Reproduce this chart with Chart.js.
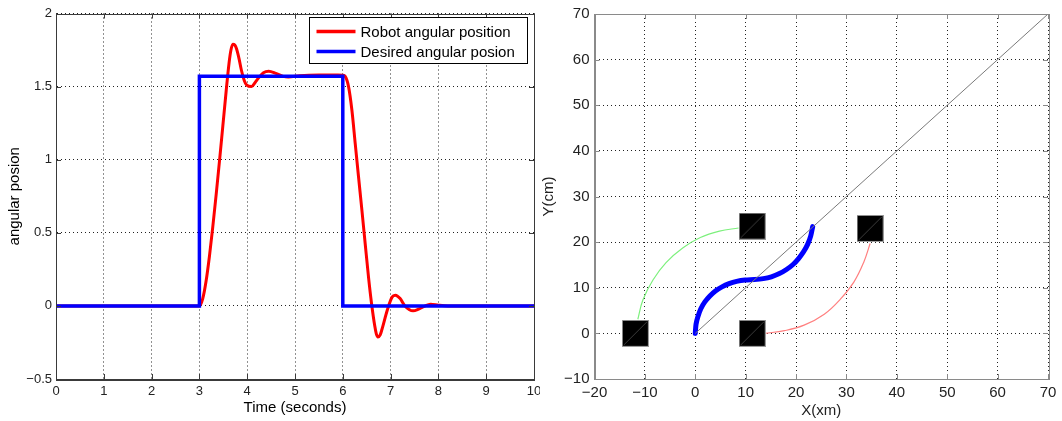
<!DOCTYPE html>
<html>
<head>
<meta charset="utf-8">
<script src="https://cdn.jsdelivr.net/npm/chart.js@4.4.0/dist/chart.umd.min.js"></script>
<style>
  body { margin: 0; background: #fff; }
  #wrap { position: relative; width: 1062px; height: 421px; }
  .box { position: absolute; top: 0; height: 421px; }
</style>
</head>
<body>
<div id="wrap">
  <div class="box" style="left:0;width:540px"><canvas id="angleChart"></canvas></div>
  <div class="box" style="left:540px;width:522px"><canvas id="pathChart"></canvas></div>
</div>
<script>
// ---- left plot: step response ----
const robotT = [0, 3.0, 3.07, 3.14, 3.21, 3.28, 3.35, 3.42, 3.49, 3.56, 3.62, 3.66, 3.70, 3.74, 3.775, 3.83, 3.88, 3.94, 3.99, 4.09, 4.17, 4.23, 4.34, 4.45, 4.6, 4.75, 4.86, 5.1, 5.5, 5.9, 6.0, 6.05, 6.12, 6.19, 6.26, 6.33, 6.40, 6.47, 6.54, 6.60, 6.67, 6.70, 6.735, 6.78, 6.82, 6.93, 7.03, 7.10, 7.2, 7.3, 7.47, 7.6, 7.84, 8.0, 8.2, 10];
const robotAngle = [0, 0, 0.05, 0.17, 0.34, 0.54, 0.76, 0.99, 1.23, 1.47, 1.66, 1.75, 1.79, 1.785, 1.76, 1.69, 1.61, 1.54, 1.51, 1.50, 1.53, 1.556, 1.595, 1.605, 1.59, 1.57, 1.565, 1.575, 1.58, 1.58, 1.578, 1.57, 1.50, 1.34, 1.11, 0.88, 0.653, 0.42, 0.19, 0.02, -0.14, -0.19, -0.213, -0.20, -0.16, -0.03, 0.06, 0.073, 0.05, 0.0, -0.034, -0.02, 0.012, 0.005, 0, 0];
const desiredT = [0, 3, 3, 6, 6, 10];
const desiredAngle = [0, 0, 1.57, 1.57, 0, 0];
const timeTicks = [0, 1, 2, 3, 4, 5, 6, 7, 8, 9, 10];
const angleTicks = [-0.5, 0, 0.5, 1, 1.5, 2];

// ---- right plot: trajectories ----
const pathX = [0, 0.15, 0.5, 1.1, 1.9, 2.9, 4.0, 5.3, 6.7, 8.2, 9.9, 11.7, 13.5, 15.1, 16.7, 18.1, 19.4, 20.5, 21.5, 22.3, 22.9, 23.3];
const pathY = [0, 2.0, 3.6, 5.4, 6.9, 8.2, 9.3, 10.2, 10.9, 11.4, 11.7, 11.8, 12.0, 12.4, 13.1, 14.0, 15.1, 16.4, 17.9, 19.5, 21.3, 23.4];
const greenX = [-11.4, -10.4, -8.4, -5.8, -2.5, 1.0, 4.8, 8.6];
const greenY = [3.1, 7.3, 11.7, 15.5, 18.7, 21.0, 22.4, 23.1];
const redX = [13.8, 17.7, 21.6, 25.6, 28.8, 31.5, 33.4, 34.7];
const redY = [0, 0.6, 1.8, 4.2, 7.5, 11.3, 15.5, 19.7];
const lineX = [0, 70];
const lineY = [0, 70];
const blockX = [-11.9, 11.3, 11.3, 34.7];
const blockY = [0, 23.5, 0, 23.0];
const xTicks = [-20, -10, 0, 10, 20, 30, 40, 50, 60, 70];
const yTicks = [-10, 0, 10, 20, 30, 40, 50, 60, 70];

const FONT = '"Liberation Sans", Arial, Helvetica, sans-serif';
const pts = (xs, ys) => xs.map((v, i) => ({ x: v, y: ys[i] }));
const minus = v => String(v).replace('-', '\u2212');

// box around the plot + small inward ticks, matlab style
const frame = {
  id: 'frame',
  afterDatasetsDraw(chart, args, opts) {
    const { ctx, chartArea: a, scales: { x, y } } = chart;
    ctx.save();
    ctx.strokeStyle = opts.color;
    ctx.lineWidth = 1;
    ctx.beginPath();
    x.ticks.forEach(t => {
      const px = Math.round(x.getPixelForValue(t.value)) + 0.5;
      ctx.moveTo(px, a.bottom); ctx.lineTo(px, a.bottom - 5);
      ctx.moveTo(px, a.top); ctx.lineTo(px, a.top + 5);
    });
    y.ticks.forEach(t => {
      const py = Math.round(y.getPixelForValue(t.value)) + 0.5;
      ctx.moveTo(a.left, py); ctx.lineTo(a.left + 5, py);
      ctx.moveTo(a.right, py); ctx.lineTo(a.right - 5, py);
    });
    ctx.stroke();
    ctx.strokeRect(Math.round(a.left) + 0.5, Math.round(a.top) + 0.5, Math.round(a.width), Math.round(a.height));
    ctx.restore();
  }
};

// legend box drawn inside the plot area (top right)
const insideLegend = {
  id: 'insideLegend',
  afterDraw(chart) {
    const { ctx, chartArea: a } = chart;
    const sets = chart.data.datasets;
    ctx.save();
    ctx.font = '15px ' + FONT;
    const textW = Math.max(...sets.map(d => ctx.measureText(d.label).width));
    const w = Math.round(51 + textW + 13), h = 46;
    const x0 = Math.round(a.right - 7 - w) + 0.5, y0 = Math.round(a.top + 3) + 0.5;
    ctx.fillStyle = '#fff';
    ctx.fillRect(x0, y0, w, h);
    ctx.strokeStyle = '#000';
    ctx.lineWidth = 1;
    ctx.strokeRect(x0, y0, w, h);
    sets.forEach((d, i) => {
      const cy = y0 + 14 + i * 20;
      ctx.strokeStyle = d.borderColor;
      ctx.lineWidth = 3.5;
      ctx.beginPath();
      ctx.moveTo(x0 + 7, cy); ctx.lineTo(x0 + 46, cy);
      ctx.stroke();
      ctx.fillStyle = '#000';
      ctx.textBaseline = 'middle';
      ctx.fillText(d.label, x0 + 51, cy + 1);
    });
    ctx.restore();
  }
};

function axisOpts(ticks, min, max, size, color, pad, fmt) {
  return {
    type: 'linear', min: min, max: max,
    afterBuildTicks: s => { s.ticks = ticks.map(v => ({ value: v })); },
    grid: { color: '#222', lineWidth: 1, drawTicks: false },
    border: { color: color, width: 1, dash: [1, 3] },
    ticks: { color: '#222', font: { family: FONT, size: size }, padding: pad, callback: fmt || (v => minus(v)) }
  };
}

// ---- left chart ----
const left = new Chart(document.getElementById('angleChart'), {
  type: 'scatter',
  data: {
    datasets: [
      { label: 'Robot angular position', data: pts(robotT, robotAngle), showLine: true, borderColor: '#ff0000', borderWidth: 3, pointRadius: 0, cubicInterpolationMode: 'monotone', order: 2 },
      { label: 'Desired angular posion', data: pts(desiredT, desiredAngle), showLine: true, borderColor: '#0000ff', borderWidth: 3.5, pointRadius: 0, tension: 0, order: 1 }
    ]
  },
  options: {
    responsive: true, maintainAspectRatio: false, animation: false,
    layout: { padding: { top: 13.5, right: 6, left: 0, bottom: 0 } },
    plugins: { legend: { display: false }, tooltip: { enabled: false }, frame: { color: '#3a3a3a' } },
    scales: {
      x: Object.assign(axisOpts(timeTicks, 0, 10, 13, '#3a3a3a', 5), {
        title: { display: true, text: 'Time (seconds)', color: '#000', font: { family: FONT, size: 15 }, padding: { top: 0, bottom: 4 } },
        afterFit: s => { s.height = 42; s.paddingLeft = 0; s.paddingRight = 0; }
      }),
      y: Object.assign(axisOpts(angleTicks, -0.5, 2, 13, '#3a3a3a', 4), {
        title: { display: true, text: 'angular posion', color: '#000', font: { family: FONT, size: 15 }, padding: { top: 6, bottom: 0 } },
        afterFit: s => { s.width = 56; s.paddingTop = 0; s.paddingBottom = 0; }
      })
    }
  },
  plugins: [frame, insideLegend]
});

// ---- right chart ----
function blockImage() {
  const c = document.createElement('canvas');
  c.width = 27; c.height = 27;
  const g = c.getContext('2d');
  g.fillStyle = '#000';
  g.fillRect(0, 0, 27, 27);
  g.strokeStyle = '#9a9a9a';
  g.lineWidth = 1;
  g.strokeRect(0.5, 0.5, 26, 26);
  g.strokeStyle = '#3c3c3c';
  g.beginPath(); g.moveTo(2, 25); g.lineTo(25, 2); g.stroke();
  return c;
}

const right = new Chart(document.getElementById('pathChart'), {
  type: 'scatter',
  data: {
    datasets: [
      { label: 'blocks', data: pts(blockX, blockY), pointStyle: blockImage(), pointRadius: 13, showLine: false, order: 0 },
      { label: 'reference', data: pts(lineX, lineY), showLine: true, borderColor: '#7a7a7a', borderWidth: 1, pointRadius: 0, order: 1 },
      { label: 'robot path', data: pts(pathX, pathY), showLine: true, borderColor: '#0000ff', borderWidth: 5, pointRadius: 0, tension: 0.3, borderCapStyle: 'round', order: 2 },
      { label: 'green arc', data: pts(greenX, greenY), showLine: true, borderColor: '#7df07d', borderWidth: 1.2, pointRadius: 0, tension: 0.4, order: 3 },
      { label: 'red arc', data: pts(redX, redY), showLine: true, borderColor: '#ff7f7f', borderWidth: 1.2, pointRadius: 0, tension: 0.4, order: 3 }
    ]
  },
  options: {
    responsive: true, maintainAspectRatio: false, animation: false,
    layout: { padding: { top: 14, right: 9, left: 0, bottom: 0 } },
    plugins: { legend: { display: false }, tooltip: { enabled: false }, frame: { color: '#8a8a8a' } },
    scales: {
      x: Object.assign(axisOpts(xTicks, -20, 70, 15, '#8a8a8a', 5), {
        title: { display: true, text: 'X(xm)', color: '#222', font: { family: FONT, size: 15 }, padding: { top: 0, bottom: 1 } },
        afterFit: s => { s.height = 42; s.paddingLeft = 0; s.paddingRight = 0; }
      }),
      y: Object.assign(axisOpts(yTicks, -10, 70, 15, '#8a8a8a', 5), {
        title: { display: true, text: 'Y(cm)', color: '#222', font: { family: FONT, size: 15 }, padding: { top: 0, bottom: 0 } },
        afterFit: s => { s.width = 54.5; s.paddingTop = 0; s.paddingBottom = 0; }
      })
    }
  },
  plugins: [frame]
});
</script>
</body>
</html>
